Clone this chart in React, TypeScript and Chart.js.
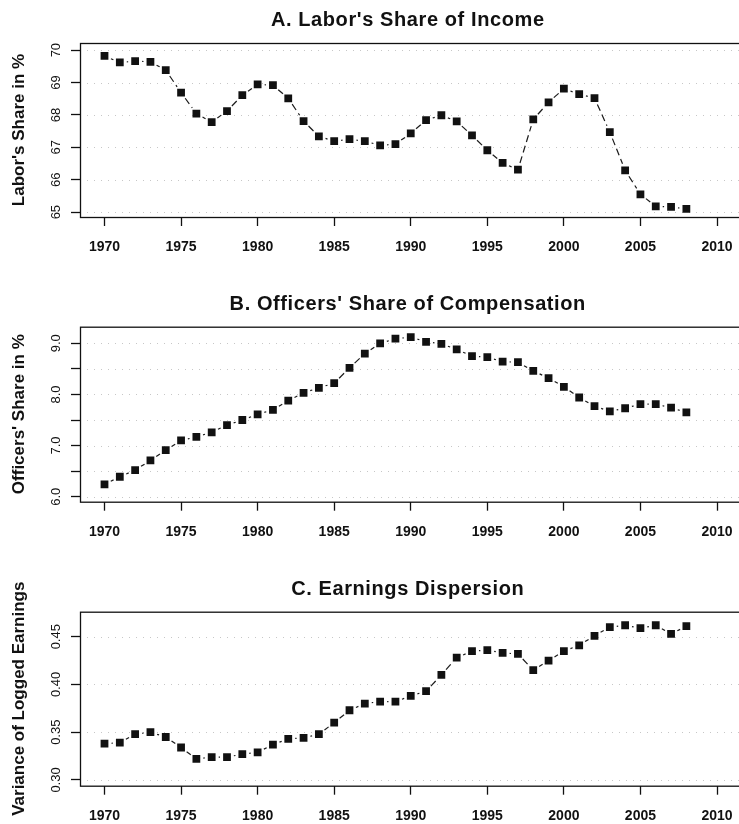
import React, { useEffect, useRef } from "react";
import { Chart, registerables } from "chart.js";

Chart.register(...registerables);

// ---------- data ----------
const years = [
  1970, 1971, 1972, 1973, 1974, 1975, 1976, 1977, 1978, 1979,
  1980, 1981, 1982, 1983, 1984, 1985, 1986, 1987, 1988, 1989,
  1990, 1991, 1992, 1993, 1994, 1995, 1996, 1997, 1998, 1999,
  2000, 2001, 2002, 2003, 2004, 2005, 2006, 2007, 2008,
];

const laborShare = [
  69.82, 69.62, 69.66, 69.64, 69.38, 68.69, 68.04, 67.78, 68.12, 68.61,
  68.94, 68.92, 68.51, 67.81, 67.34, 67.19, 67.25, 67.19, 67.06, 67.1,
  67.43, 67.84, 67.99, 67.8, 67.37, 66.91, 66.52, 66.31, 67.86, 68.39,
  68.81, 68.64, 68.52, 67.47, 66.29, 65.55, 65.18, 65.16, 65.1,
];

const officersShare = [
  6.24, 6.39, 6.52, 6.71, 6.91, 7.1, 7.17, 7.26, 7.4, 7.5,
  7.61, 7.7, 7.88, 8.03, 8.13, 8.22, 8.52, 8.8, 9.0, 9.09,
  9.12, 9.03, 8.99, 8.88, 8.75, 8.73, 8.64, 8.63, 8.46, 8.32,
  8.15, 7.94, 7.77, 7.67, 7.73, 7.81, 7.81, 7.74, 7.65,
];

const earningsVariance = [
  0.338, 0.339, 0.348, 0.35, 0.345, 0.334, 0.322, 0.324, 0.324, 0.327,
  0.329, 0.337, 0.343, 0.344, 0.348, 0.36, 0.373, 0.38, 0.382, 0.382,
  0.388, 0.393, 0.41, 0.428, 0.435, 0.436, 0.433, 0.432, 0.415, 0.425,
  0.435, 0.441, 0.451, 0.46, 0.462, 0.459, 0.462, 0.453, 0.461,
];

const xTicks = [1970, 1975, 1980, 1985, 1990, 1995, 2000, 2005, 2010];
const xTickLabels = ["1970", "1975", "1980", "1985", "1990", "1995", "2000", "2005", "2010"];

const laborTicks = [65, 66, 67, 68, 69, 70];
const laborTickLabels = ["65", "66", "67", "68", "69", "70"];

const officersTicks = [6.0, 6.5, 7.0, 7.5, 8.0, 8.5, 9.0];
const officersTickLabels = ["6.0", "", "7.0", "", "8.0", "", "9.0"];

const earningsTicks = [0.3, 0.35, 0.4, 0.45];
const earningsTickLabels = ["0.30", "0.35", "0.40", "0.45"];

const titles = [
  "A. Labor's Share of Income",
  "B. Officers' Share of Compensation",
  "C. Earnings Dispersion",
];
const yTitles = ["Labor's Share in %", "Officers' Share in %", "Variance of Logged Earnings"];

// ---------- layout ----------
const CANVAS_W = 747;
const FONT = '"Liberation Sans", Arial, Helvetica, sans-serif';
const INK = "#111";

type Panel = {
  title: string;
  yTitle: string;
  values: number[];
  yMin: number;
  yMax: number;
  yTicks: number[];
  yLabels: string[];
  top: number;
  height: number;
  boxTop: number;
  boxBottom: number;
};

const panels: Panel[] = [
  {
    title: titles[0], yTitle: yTitles[0], values: laborShare,
    yMin: 64.85, yMax: 70.22, yTicks: laborTicks, yLabels: laborTickLabels,
    top: 0, height: 280, boxTop: 43, boxBottom: 217,
  },
  {
    title: titles[1], yTitle: yTitles[1], values: officersShare,
    yMin: 5.902, yMax: 9.325, yTicks: officersTicks, yLabels: officersTickLabels,
    top: 280, height: 281, boxTop: 46.7, boxBottom: 221.7,
  },
  {
    title: titles[2], yTitle: yTitles[2], values: earningsVariance,
    yMin: 0.294, yMax: 0.4762, yTicks: earningsTicks, yLabels: earningsTickLabels,
    top: 561, height: 263, boxTop: 50.7, boxBottom: 224.7,
  },
];

function makeConfig(p: Panel): any {
  const decor = {
    id: "decor",
    beforeDatasetsDraw(chart: any) {
      const { ctx, chartArea: a, scales } = chart;
      const ys = scales.y;
      ctx.save();
      // faint dotted grid
      ctx.strokeStyle = "rgba(0,0,0,0.22)";
      ctx.lineWidth = 1;
      ctx.setLineDash([1, 6]);
      p.yTicks.forEach((v) => {
        const y = Math.round(ys.getPixelForValue(v)) + 0.5;
        ctx.beginPath();
        ctx.moveTo(a.left, y);
        ctx.lineTo(a.right, y);
        ctx.stroke();
      });
      // dashed connecting segments (type "b": gaps around points)
      const meta = chart.getDatasetMeta(0);
      ctx.strokeStyle = "#1a1a1a";
      ctx.lineWidth = 1.2;
      const gap = 7;
      for (let i = 0; i < meta.data.length - 1; i++) {
        const p0 = meta.data[i];
        const p1 = meta.data[i + 1];
        const dx = p1.x - p0.x;
        const dy = p1.y - p0.y;
        const len = Math.hypot(dx, dy);
        if (len <= 2 * gap + 1) continue;
        const ux = dx / len;
        const uy = dy / len;
        ctx.setLineDash([7, 4]);
        ctx.lineDashOffset = 0;
        ctx.beginPath();
        ctx.moveTo(p0.x + ux * gap, p0.y + uy * gap);
        ctx.lineTo(p1.x - ux * gap, p1.y - uy * gap);
        ctx.stroke();
      }
      ctx.restore();
    },
    afterDraw(chart: any) {
      const { ctx, chartArea: a, scales } = chart;
      const ys = scales.y;
      const xs = scales.x;
      ctx.save();
      // box
      ctx.setLineDash([]);
      ctx.strokeStyle = INK;
      ctx.lineWidth = 1.3;
      ctx.strokeRect(a.left + 0.5, a.top + 0.5, a.right - a.left, a.bottom - a.top);
      // title
      ctx.fillStyle = INK;
      ctx.font = `bold 20px ${FONT}`;
      (ctx as any).letterSpacing = "0.6px";
      ctx.textAlign = "center";
      ctx.textBaseline = "alphabetic";
      ctx.fillText(p.title, (a.left + a.right) / 2 - 3, a.top - 17);
      (ctx as any).letterSpacing = "0px";
      // y title
      ctx.save();
      ctx.translate(24, (a.top + a.bottom) / 2);
      ctx.rotate(-Math.PI / 2);
      ctx.font = `bold 17px ${FONT}`;
      ctx.fillText(p.yTitle, 0, 0);
      ctx.restore();
      // y tick labels (rotated, R style)
      ctx.font = `13px ${FONT}`;
      p.yTicks.forEach((v, i) => {
        const lab = p.yLabels[i];
        if (!lab) return;
        const y = ys.getPixelForValue(v);
        ctx.save();
        ctx.translate(60, y);
        ctx.rotate(-Math.PI / 2);
        ctx.fillText(lab, 0, 0);
        ctx.restore();
      });
      // x tick labels
      ctx.font = `bold 14px ${FONT}`;
      ctx.textBaseline = "middle";
      xTicks.forEach((v, i) => {
        ctx.fillText(xTickLabels[i], xs.getPixelForValue(v), a.bottom + 30);
      });
      ctx.restore();
    },
  };

  return {
    type: "scatter",
    data: {
      datasets: [
        {
          data: years.map((yr, i) => ({ x: yr, y: p.values[i] })),
          showLine: false,
          pointStyle: "rect",
          pointRadius: 5.5,
          pointHoverRadius: 5.5,
          backgroundColor: INK,
          borderColor: INK,
          borderWidth: 0,
        },
      ],
    },
    options: {
      responsive: false,
      animation: false,
      devicePixelRatio: 1,
      events: [],
      layout: { padding: { top: p.boxTop, left: 0, right: 0, bottom: 0 } },
      plugins: {
        legend: { display: false },
        tooltip: { enabled: false },
        title: { display: false },
      },
      scales: {
        x: {
          type: "linear",
          min: 1968.4,
          max: 2011.6,
          offset: false,
          afterBuildTicks: (s: any) => {
            s.ticks = xTicks.map((v) => ({ value: v }));
          },
          afterFit: (s: any) => {
            s.height = p.height - p.boxBottom;
            s.paddingLeft = 0;
            s.paddingRight = 0;
          },
          border: { display: false },
          grid: {
            drawOnChartArea: false,
            drawTicks: true,
            tickLength: 9,
            tickColor: INK,
            tickWidth: 1.3,
          },
          ticks: { display: false },
        },
        y: {
          type: "linear",
          min: p.yMin,
          max: p.yMax,
          afterBuildTicks: (s: any) => {
            s.ticks = p.yTicks.map((v) => ({ value: v }));
          },
          afterFit: (s: any) => {
            s.width = 80;
            s.paddingTop = 0;
            s.paddingBottom = 0;
          },
          border: { display: false },
          grid: {
            drawOnChartArea: false,
            drawTicks: true,
            tickLength: 9,
            tickColor: INK,
            tickWidth: 1.3,
          },
          ticks: { display: false },
        },
      },
    },
    plugins: [decor],
  };
}

function PanelChart({ p }: { p: Panel }) {
  const ref = useRef<HTMLCanvasElement>(null);
  useEffect(() => {
    const chart = new Chart(ref.current as HTMLCanvasElement, makeConfig(p));
    return () => chart.destroy();
  }, [p]);
  return (
    <canvas
      ref={ref}
      width={CANVAS_W}
      height={p.height}
      style={{
        position: "absolute",
        left: 0,
        top: p.top,
        width: CANVAS_W,
        height: p.height,
        display: "block",
      }}
    />
  );
}

export default function App() {
  return (
    <div
      style={{
        position: "absolute",
        left: 0,
        top: 0,
        width: 739,
        height: 824,
        overflow: "hidden",
        background: "#fff",
      }}
    >
      {panels.map((p, i) => (
        <PanelChart key={i} p={p} />
      ))}
    </div>
  );
}
